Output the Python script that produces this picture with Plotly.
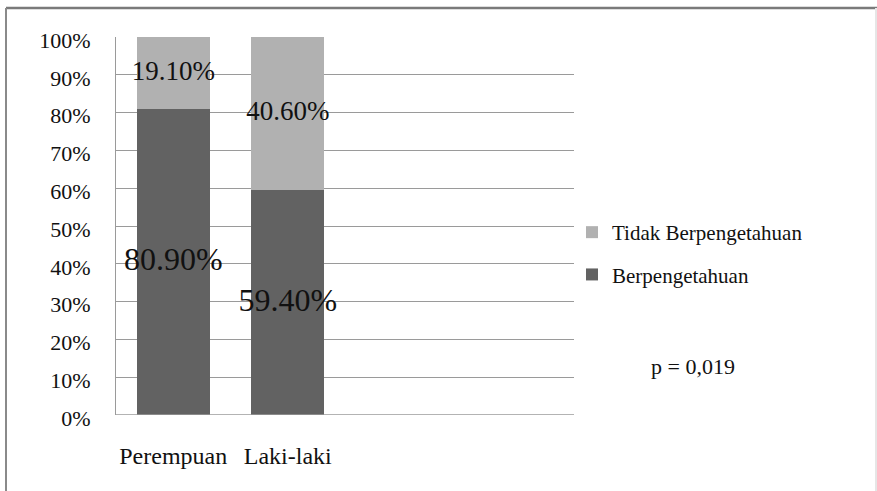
import plotly.graph_objects as go

categories = ["Perempuan", "Laki-laki"]
berpengetahuan = [80.90, 59.40]
tidak_berpengetahuan = [19.10, 40.60]
y_ticks = [0, 10, 20, 30, 40, 50, 60, 70, 80, 90, 100]
p_text = "p = 0,019"

W, H = 877, 491
# plot area in pixel coordinates
L, R, T, B = 116, 574, 37, 415

x_pos = list(range(len(categories)))
font = "Liberation Serif"
dark = "#626262"
light = "#b1b1b1"

fig = go.Figure()
fig.add_trace(go.Bar(
    x=x_pos, y=berpengetahuan, name="Berpengetahuan",
    marker=dict(color=dark, line=dict(width=0)), width=0.64,
    legendgroup="a", legendrank=2, hoverinfo="skip"))
fig.add_trace(go.Bar(
    x=x_pos, y=tidak_berpengetahuan, name="Tidak Berpengetahuan",
    marker=dict(color=light, line=dict(width=0)), width=0.64,
    legendgroup="b", legendrank=1, hoverinfo="skip"))

# data labels at segment centres
fig.add_trace(go.Scatter(
    x=x_pos, y=[v / 2 for v in berpengetahuan],
    text=[f"{v:.2f}%" for v in berpengetahuan], mode="text", showlegend=False,
    textfont=dict(family=font, size=32, color="#111111"),
    cliponaxis=False, hoverinfo="skip"))
fig.add_trace(go.Scatter(
    x=x_pos, y=[b + t / 2 for b, t in zip(berpengetahuan, tidak_berpengetahuan)],
    text=[f"{v:.2f}%" for v in tidak_berpengetahuan], mode="text", showlegend=False,
    textfont=dict(family=font, size=27, color="#111111"),
    cliponaxis=False, hoverinfo="skip"))

pw, ph = R - L, B - T
def px(x):
    return (x - L) / pw
def py(y):
    return (B - y) / ph

fig.update_layout(
    width=W, height=H,
    margin=dict(l=L, r=W - R, t=T, b=H - B, pad=0),
    barmode="stack",
    paper_bgcolor="white", plot_bgcolor="white",
    font=dict(family=font, size=19, color="#111111"),
    showlegend=True,
    legend=dict(
        x=px(572), y=py(212), xanchor="left", yanchor="top",
        traceorder="grouped", tracegroupgap=12,
        font=dict(family=font, size=21, color="#111111"),
        itemwidth=30, bgcolor="rgba(0,0,0,0)"),
    xaxis=dict(
        range=[-0.5, 3.5], tickvals=x_pos, ticktext=categories,
        showgrid=False, zeroline=False, showline=False,
        ticks="", ticklabelstandoff=24,
        tickfont=dict(family=font, size=24, color="#111111")),
    yaxis=dict(
        range=[0, 100], tickvals=y_ticks,
        ticktext=[f"{v}%" for v in y_ticks],
        showgrid=True, gridcolor="#9a9a9a", gridwidth=1.2,
        zeroline=False, showline=True, linecolor="#9a9a9a", linewidth=1.2,
        ticks="", ticklabelstandoff=20, ticklabelshift=3,
        tickfont=dict(family=font, size=22, color="#111111")),
    shapes=[
        dict(type="line", xref="paper", yref="paper",
             x0=px(6), x1=px(877), y0=py(8), y1=py(8),
             line=dict(color="#7a7a7a", width=2.5)),
        dict(type="line", xref="paper", yref="paper",
             x0=px(6), x1=px(6), y0=py(8), y1=py(491),
             line=dict(color="#8a8a8a", width=2)),
        dict(type="line", xref="paper", yref="paper",
             x0=px(876), x1=px(876), y0=py(8), y1=py(491),
             line=dict(color="#e6e6e6", width=2)),
        dict(type="line", xref="paper", yref="y",
             x0=0, x1=1, y0=0, y1=0,
             line=dict(color="#9a9a9a", width=1.5)),
    ],
    annotations=[
        dict(text=p_text, xref="paper", yref="paper",
             x=px(649), y=py(366), xanchor="left", yanchor="middle",
             showarrow=False, font=dict(family=font, size=22, color="#111111")),
    ],
)

fig.write_html("out.html", config={"displayModeBar": False},
               post_script="document.body.style.margin='0';")
